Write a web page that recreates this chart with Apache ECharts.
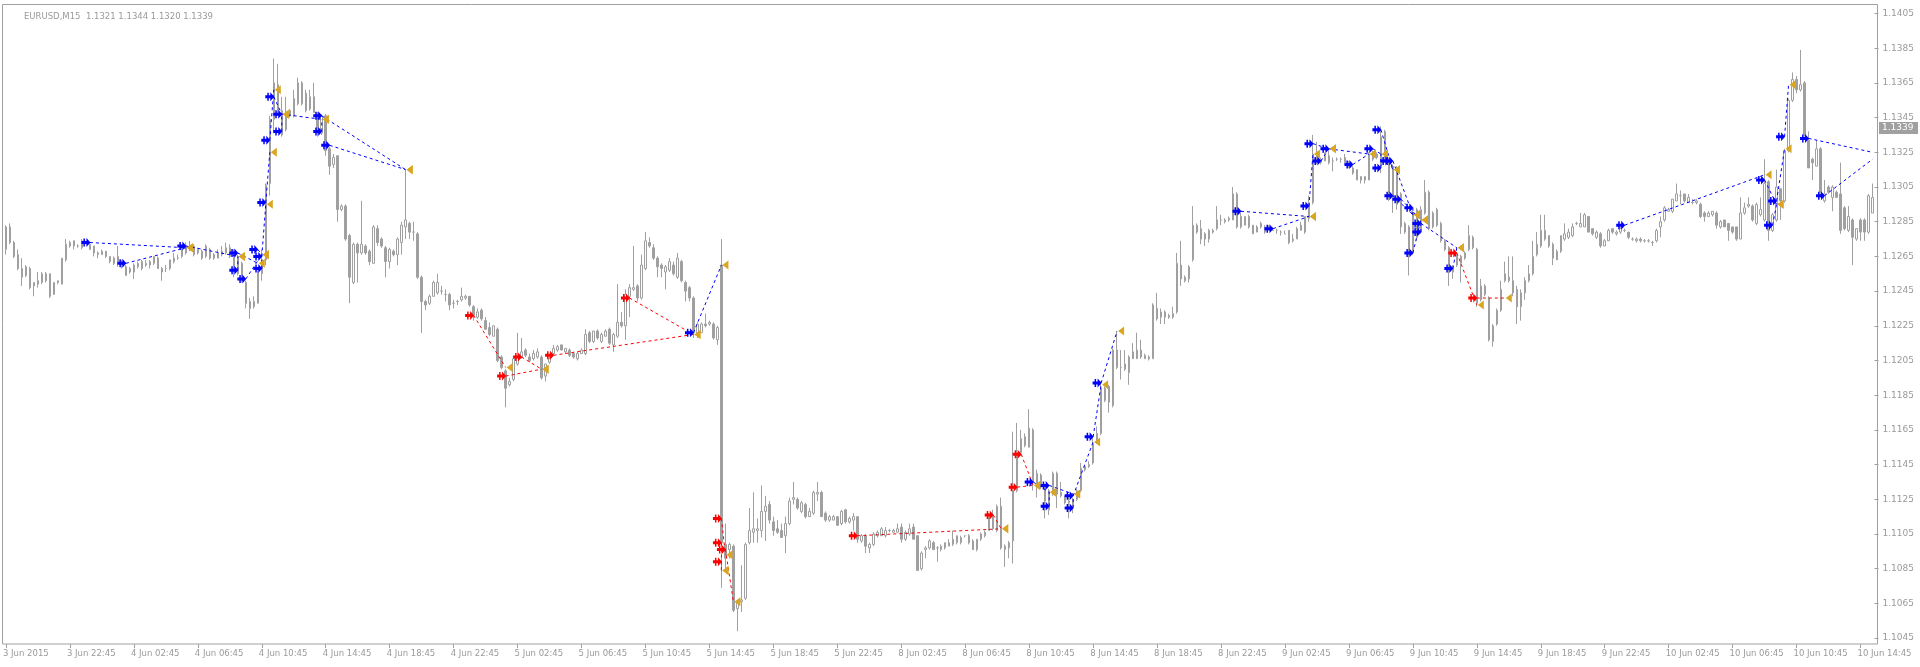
<!DOCTYPE html>
<html><head><meta charset="utf-8">
<script src="https://cdn.jsdelivr.net/npm/echarts@6/dist/echarts.min.js"></script>
<style>html,body{margin:0;padding:0;background:#fff}#c{width:1920px;height:667px}</style>
</head><body><div id="c"></div>
<script>
const symbolTitle = 'EURUSD,M15';
const lastBarOHLC = [1.1321, 1.1344, 1.1320, 1.1339];
const bidPrice = 1.1339;
const yMin = 1.1045, yMax = 1.1405, yStep = 0.002;
const firstBar = [2015, 5, 3, 18, 45]; // 3 Jun 2015 18:45, M15 bars
const labelEvery = 16;
// [open, close, low, high]
const candles = [
[1.1269,1.1282,1.1266,1.1283],[1.1282,1.1273,1.1272,1.1284],[1.1273,1.1265,1.1264,1.1274],[1.1266,1.1258,1.1257,1.1269],
[1.1258,1.1253,1.1248,1.1264],[1.1254,1.1259,1.1253,1.1260],[1.1258,1.1247,1.1246,1.1259],[1.1248,1.1250,1.1242,1.1250],
[1.1249,1.1251,1.1247,1.1256],[1.1250,1.1255,1.1249,1.1256],[1.1255,1.1251,1.1250,1.1256],[1.1255,1.1242,1.1241,1.1255],
[1.1243,1.1250,1.1243,1.1250],[1.1250,1.1251,1.1249,1.1251],[1.1249,1.1264,1.1249,1.1264],[1.1263,1.1272,1.1262,1.1275],
[1.1271,1.1273,1.1270,1.1274],[1.1274,1.1271,1.1269,1.1274],[1.1271,1.1271,1.1270,1.1272],[1.1270,1.1274,1.1269,1.1275],
[1.1273,1.1273,1.1272,1.1274],[1.1272,1.1269,1.1269,1.1273],[1.1271,1.1267,1.1265,1.1271],[1.1266,1.1267,1.1264,1.1268],
[1.1266,1.1268,1.1266,1.1269],[1.1268,1.1265,1.1264,1.1268],[1.1265,1.1262,1.1261,1.1265],[1.1264,1.1261,1.1260,1.1265],
[1.1262,1.1265,1.1259,1.1271],[1.1262,1.1259,1.1258,1.1263],[1.1259,1.1254,1.1254,1.1260],[1.1256,1.1258,1.1255,1.1259],
[1.1256,1.1260,1.1252,1.1261],[1.1259,1.1261,1.1258,1.1262],[1.1262,1.1258,1.1257,1.1263],[1.1260,1.1261,1.1259,1.1263],
[1.1260,1.1262,1.1258,1.1263],[1.1261,1.1265,1.1260,1.1265],[1.1264,1.1258,1.1258,1.1265],[1.1258,1.1256,1.1251,1.1259],
[1.1258,1.1258,1.1256,1.1260],[1.1258,1.1263,1.1257,1.1263],[1.1262,1.1264,1.1261,1.1267],[1.1264,1.1264,1.1263,1.1266],
[1.1265,1.1269,1.1264,1.1270],[1.1267,1.1271,1.1266,1.1273],[1.1269,1.1271,1.1268,1.1274],[1.1271,1.1266,1.1265,1.1272],
[1.1267,1.1269,1.1266,1.1270],[1.1268,1.1264,1.1263,1.1269],[1.1265,1.1271,1.1264,1.1272],[1.1269,1.1264,1.1263,1.1270],
[1.1266,1.1264,1.1263,1.1267],[1.1264,1.1267,1.1264,1.1269],[1.1266,1.1268,1.1265,1.1271],[1.1267,1.1270,1.1266,1.1273],
[1.1270,1.1265,1.1264,1.1272],[1.1268,1.1257,1.1253,1.1269],[1.1255,1.1265,1.1254,1.1266],[1.1261,1.1251,1.1250,1.1262],
[1.1250,1.1238,1.1235,1.1251],[1.1239,1.1235,1.1229,1.1241],[1.1236,1.1239,1.1235,1.1242],[1.1238,1.1256,1.1238,1.1257],
[1.1255,1.1263,1.1251,1.1269],[1.1263,1.1306,1.1260,1.1307],[1.1307,1.1344,1.1300,1.1346],[1.1344,1.1365,1.1336,1.1379],
[1.1364,1.1349,1.1346,1.1376],[1.1349,1.1335,1.1334,1.1357],[1.1338,1.1346,1.1337,1.1357],[1.1346,1.1349,1.1345,1.1350],
[1.1346,1.1356,1.1345,1.1361],[1.1353,1.1365,1.1352,1.1368],[1.1365,1.1353,1.1352,1.1366],[1.1359,1.1349,1.1348,1.1361],
[1.1350,1.1357,1.1349,1.1361],[1.1357,1.1348,1.1348,1.1365],[1.1348,1.1336,1.1334,1.1348],[1.1336,1.1346,1.1335,1.1347],
[1.1346,1.1326,1.1323,1.1347],[1.1327,1.1317,1.1312,1.1328],[1.1318,1.1322,1.1316,1.1324],[1.1323,1.1292,1.1285,1.1323],
[1.1292,1.1294,1.1291,1.1295],[1.1294,1.1275,1.1274,1.1295],[1.1277,1.1253,1.1238,1.1278],[1.1250,1.1272,1.1249,1.1273],
[1.1272,1.1267,1.1250,1.1273],[1.1267,1.1272,1.1266,1.1297],[1.1271,1.1267,1.1266,1.1272],[1.1268,1.1262,1.1260,1.1269],
[1.1261,1.1282,1.1261,1.1283],[1.1281,1.1273,1.1271,1.1283],[1.1275,1.1271,1.1270,1.1276],[1.1270,1.1262,1.1253,1.1271],
[1.1262,1.1269,1.1258,1.1270],[1.1268,1.1266,1.1265,1.1269],[1.1266,1.1275,1.1260,1.1276],[1.1273,1.1283,1.1266,1.1285],
[1.1282,1.1286,1.1275,1.1315],[1.1284,1.1279,1.1275,1.1285],[1.1279,1.1279,1.1274,1.1285],[1.1278,1.1253,1.1252,1.1279],
[1.1253,1.1239,1.1221,1.1254],[1.1239,1.1237,1.1234,1.1240],[1.1238,1.1242,1.1237,1.1243],[1.1242,1.1250,1.1242,1.1251],
[1.1244,1.1250,1.1243,1.1255],[1.1245,1.1245,1.1243,1.1248],[1.1243,1.1243,1.1239,1.1246],[1.1243,1.1237,1.1234,1.1244],
[1.1238,1.1238,1.1235,1.1240],[1.1239,1.1239,1.1237,1.1240],[1.1240,1.1242,1.1239,1.1247],[1.1241,1.1242,1.1240,1.1243],
[1.1242,1.1237,1.1236,1.1242],[1.1236,1.1231,1.1228,1.1237],[1.1230,1.1233,1.1229,1.1235],[1.1234,1.1229,1.1228,1.1235],
[1.1228,1.1223,1.1223,1.1230],[1.1224,1.1220,1.1219,1.1227],[1.1219,1.1225,1.1219,1.1225],[1.1223,1.1205,1.1204,1.1224],
[1.1207,1.1201,1.1200,1.1208],[1.1199,1.1189,1.1178,1.1200],[1.1191,1.1193,1.1190,1.1195],[1.1194,1.1206,1.1193,1.1207],
[1.1203,1.1207,1.1202,1.1221],[1.1207,1.1210,1.1206,1.1218],[1.1211,1.1208,1.1207,1.1212],[1.1207,1.1205,1.1204,1.1209],
[1.1206,1.1209,1.1205,1.1211],[1.1207,1.1210,1.1206,1.1212],[1.1207,1.1195,1.1194,1.1208],[1.1196,1.1203,1.1193,1.1203],
[1.1204,1.1206,1.1203,1.1207],[1.1209,1.1212,1.1208,1.1214],[1.1211,1.1213,1.1210,1.1214],[1.1214,1.1211,1.1211,1.1214],
[1.1210,1.1212,1.1209,1.1212],[1.1211,1.1208,1.1207,1.1212],[1.1209,1.1207,1.1206,1.1210],[1.1206,1.1209,1.1205,1.1210],
[1.1209,1.1211,1.1209,1.1212],[1.1209,1.1220,1.1208,1.1223],[1.1221,1.1216,1.1215,1.1222],[1.1216,1.1222,1.1215,1.1222],
[1.1222,1.1218,1.1217,1.1223],[1.1216,1.1220,1.1215,1.1221],[1.1219,1.1222,1.1219,1.1223],[1.1223,1.1215,1.1214,1.1224],
[1.1214,1.1220,1.1210,1.1221],[1.1219,1.1227,1.1218,1.1249],[1.1227,1.1225,1.1224,1.1233],[1.1225,1.1243,1.1217,1.1246],
[1.1242,1.1247,1.1230,1.1249],[1.1246,1.1247,1.1245,1.1271],[1.1248,1.1241,1.1239,1.1249],[1.1241,1.1260,1.1240,1.1266],
[1.1258,1.1274,1.1257,1.1279],[1.1273,1.1271,1.1270,1.1276],[1.1270,1.1264,1.1263,1.1272],[1.1264,1.1259,1.1253,1.1265],
[1.1260,1.1258,1.1253,1.1261],[1.1256,1.1259,1.1246,1.1260],[1.1257,1.1262,1.1256,1.1264],[1.1260,1.1255,1.1254,1.1262],
[1.1253,1.1264,1.1252,1.1267],[1.1262,1.1251,1.1250,1.1263],[1.1250,1.1245,1.1239,1.1251],[1.1247,1.1241,1.1239,1.1248],
[1.1241,1.1221,1.1218,1.1242],[1.1221,1.1226,1.1218,1.1227],[1.1221,1.1226,1.1221,1.1227],[1.1226,1.1225,1.1224,1.1232],
[1.1226,1.1227,1.1225,1.1228],[1.1226,1.1218,1.1217,1.1227],[1.1217,1.1224,1.1214,1.1225],[1.1260,1.1100,1.1074,1.1275],
[1.1099,1.1091,1.1083,1.1111],[1.1096,1.1099,1.1091,1.1100],[1.1098,1.1061,1.1060,1.1099],[1.1062,1.1065,1.1049,1.1066],
[1.1066,1.1067,1.1060,1.1087],[1.1068,1.1099,1.1067,1.1100],[1.1100,1.1107,1.1099,1.1120],[1.1106,1.1108,1.1100,1.1129],
[1.1107,1.1108,1.1100,1.1114],[1.1107,1.1118,1.1103,1.1133],[1.1118,1.1121,1.1101,1.1127],[1.1122,1.1113,1.1111,1.1124],
[1.1112,1.1107,1.1104,1.1115],[1.1108,1.1106,1.1105,1.1113],[1.1107,1.1103,1.1103,1.1111],[1.1104,1.1111,1.1094,1.1115],
[1.1111,1.1124,1.1110,1.1126],[1.1125,1.1126,1.1122,1.1135],[1.1125,1.1120,1.1119,1.1126],[1.1118,1.1123,1.1117,1.1124],
[1.1122,1.1115,1.1114,1.1123],[1.1115,1.1118,1.1115,1.1120],[1.1117,1.1129,1.1116,1.1130],[1.1128,1.1129,1.1124,1.1135],
[1.1129,1.1115,1.1115,1.1130],[1.1117,1.1113,1.1112,1.1118],[1.1113,1.1115,1.1112,1.1116],[1.1113,1.1115,1.1113,1.1116],
[1.1115,1.1110,1.1110,1.1115],[1.1111,1.1118,1.1110,1.1119],[1.1119,1.1112,1.1111,1.1119],[1.1112,1.1114,1.1111,1.1115],
[1.1113,1.1115,1.1107,1.1117],[1.1115,1.1102,1.1100,1.1115],[1.1101,1.1104,1.1100,1.1105],[1.1104,1.1098,1.1094,1.1105],
[1.1097,1.1099,1.1094,1.1100],[1.1099,1.1105,1.1098,1.1106],[1.1104,1.1106,1.1103,1.1107],[1.1104,1.1108,1.1104,1.1109],
[1.1104,1.1107,1.1103,1.1109],[1.1107,1.1107,1.1106,1.1108],[1.1106,1.1107,1.1106,1.1108],[1.1106,1.1108,1.1106,1.1111],
[1.1109,1.1102,1.1100,1.1111],[1.1102,1.1106,1.1101,1.1107],[1.1105,1.1108,1.1104,1.1111],[1.1109,1.1102,1.1102,1.1111],
[1.1104,1.1084,1.1084,1.1104],[1.1085,1.1094,1.1084,1.1095],[1.1096,1.1097,1.1091,1.1098],[1.1097,1.1101,1.1096,1.1102],
[1.1100,1.1096,1.1096,1.1101],[1.1097,1.1097,1.1089,1.1098],[1.1096,1.1098,1.1095,1.1099],[1.1097,1.1100,1.1096,1.1100],
[1.1098,1.1100,1.1098,1.1102],[1.1099,1.1102,1.1098,1.1107],[1.1100,1.1104,1.1099,1.1104],[1.1100,1.1103,1.1099,1.1104],
[1.1104,1.1104,1.1103,1.1104],[1.1104,1.1100,1.1099,1.1105],[1.1101,1.1096,1.1096,1.1102],[1.1096,1.1102,1.1095,1.1102],
[1.1102,1.1105,1.1101,1.1106],[1.1104,1.1106,1.1103,1.1107],[1.1107,1.1115,1.1107,1.1117],[1.1115,1.1108,1.1107,1.1119],
[1.1107,1.1121,1.1106,1.1122],[1.1121,1.1097,1.1096,1.1126],[1.1096,1.1098,1.1086,1.1099],[1.1097,1.1100,1.1091,1.1101],
[1.1101,1.1130,1.1088,1.1164],[1.1130,1.1152,1.1129,1.1169],[1.1152,1.1160,1.1150,1.1165],[1.1161,1.1156,1.1155,1.1163],
[1.1155,1.1166,1.1155,1.1177],[1.1165,1.1135,1.1130,1.1166],[1.1132,1.1140,1.1126,1.1142],[1.1139,1.1132,1.1131,1.1140],
[1.1133,1.1124,1.1114,1.1134],[1.1119,1.1130,1.1116,1.1131],[1.1128,1.1140,1.1127,1.1141],[1.1140,1.1128,1.1120,1.1141],
[1.1127,1.1129,1.1126,1.1135],[1.1126,1.1123,1.1122,1.1127],[1.1124,1.1123,1.1114,1.1127],[1.1121,1.1125,1.1117,1.1126],
[1.1125,1.1130,1.1124,1.1131],[1.1130,1.1143,1.1129,1.1146],[1.1142,1.1144,1.1141,1.1145],[1.1144,1.1145,1.1143,1.1147],
[1.1146,1.1157,1.1145,1.1162],[1.1158,1.1163,1.1157,1.1167],[1.1163,1.1189,1.1162,1.1193],[1.1189,1.1182,1.1181,1.1190],
[1.1190,1.1181,1.1175,1.1191],[1.1179,1.1211,1.1178,1.1212],[1.1211,1.1201,1.1200,1.1222],[1.1201,1.1201,1.1194,1.1211],
[1.1200,1.1203,1.1199,1.1211],[1.1198,1.1207,1.1191,1.1208],[1.1210,1.1206,1.1206,1.1215],[1.1206,1.1211,1.1206,1.1221],
[1.1211,1.1207,1.1206,1.1217],[1.1206,1.1208,1.1206,1.1209],[1.1207,1.1206,1.1205,1.1208],[1.1206,1.1237,1.1206,1.1238],
[1.1235,1.1229,1.1228,1.1244],[1.1233,1.1230,1.1226,1.1235],[1.1230,1.1233,1.1226,1.1234],[1.1231,1.1230,1.1229,1.1232],
[1.1230,1.1232,1.1229,1.1236],[1.1233,1.1261,1.1232,1.1267],[1.1260,1.1252,1.1248,1.1274],[1.1253,1.1251,1.1250,1.1254],
[1.1252,1.1259,1.1250,1.1260],[1.1263,1.1283,1.1262,1.1294],[1.1279,1.1283,1.1278,1.1284],[1.1281,1.1275,1.1272,1.1286],
[1.1278,1.1275,1.1271,1.1279],[1.1275,1.1280,1.1273,1.1281],[1.1279,1.1280,1.1278,1.1281],[1.1281,1.1286,1.1280,1.1294],
[1.1286,1.1286,1.1283,1.1289],[1.1285,1.1286,1.1284,1.1287],[1.1286,1.1287,1.1285,1.1288],[1.1286,1.1301,1.1286,1.1305],
[1.1301,1.1282,1.1281,1.1302],[1.1288,1.1282,1.1281,1.1290],[1.1283,1.1288,1.1283,1.1288],[1.1288,1.1282,1.1281,1.1289],
[1.1283,1.1278,1.1278,1.1283],[1.1279,1.1282,1.1279,1.1283],[1.1284,1.1282,1.1281,1.1285],[1.1282,1.1279,1.1278,1.1283],
[1.1280,1.1282,1.1280,1.1283],[1.1280,1.1280,1.1280,1.1282],[1.1280,1.1280,1.1278,1.1281],[1.1279,1.1279,1.1277,1.1280],
[1.1278,1.1278,1.1278,1.1280],[1.1280,1.1273,1.1272,1.1280],[1.1274,1.1275,1.1273,1.1278],[1.1275,1.1281,1.1275,1.1282],
[1.1280,1.1283,1.1280,1.1285],[1.1279,1.1288,1.1278,1.1288],[1.1287,1.1296,1.1285,1.1300],[1.1296,1.1324,1.1295,1.1335],
[1.1324,1.1319,1.1318,1.1331],[1.1319,1.1321,1.1318,1.1322],[1.1320,1.1323,1.1320,1.1325],[1.1323,1.1319,1.1318,1.1326],
[1.1320,1.1320,1.1314,1.1322],[1.1321,1.1321,1.1320,1.1322],[1.1321,1.1321,1.1319,1.1322],[1.1322,1.1319,1.1319,1.1324],
[1.1316,1.1319,1.1316,1.1320],[1.1316,1.1313,1.1312,1.1317],[1.1315,1.1309,1.1309,1.1315],[1.1311,1.1309,1.1307,1.1311],
[1.1309,1.1311,1.1307,1.1311],[1.1309,1.1324,1.1309,1.1325],[1.1323,1.1321,1.1320,1.1326],[1.1322,1.1324,1.1321,1.1325],
[1.1317,1.1334,1.1313,1.1340],[1.1337,1.1321,1.1320,1.1338],[1.1321,1.1302,1.1297,1.1322],[1.1299,1.1317,1.1290,1.1318],
[1.1316,1.1295,1.1292,1.1317],[1.1301,1.1282,1.1278,1.1302],[1.1284,1.1279,1.1278,1.1285],[1.1282,1.1267,1.1254,1.1283],
[1.1267,1.1290,1.1266,1.1291],[1.1276,1.1292,1.1274,1.1293],[1.1279,1.1292,1.1278,1.1294],[1.1290,1.1302,1.1289,1.1309],
[1.1302,1.1281,1.1280,1.1303],[1.1282,1.1290,1.1281,1.1291],[1.1292,1.1283,1.1282,1.1293],[1.1284,1.1274,1.1273,1.1285],
[1.1274,1.1269,1.1268,1.1275],[1.1270,1.1260,1.1248,1.1271],[1.1256,1.1259,1.1252,1.1260],[1.1260,1.1266,1.1259,1.1267],
[1.1265,1.1261,1.1250,1.1266],[1.1264,1.1267,1.1263,1.1268],[1.1269,1.1277,1.1268,1.1283],[1.1276,1.1270,1.1269,1.1277],
[1.1269,1.1238,1.1236,1.1270],[1.1240,1.1248,1.1239,1.1252],[1.1243,1.1248,1.1242,1.1249],[1.1241,1.1217,1.1216,1.1242],
[1.1216,1.1225,1.1213,1.1226],[1.1226,1.1234,1.1225,1.1235],[1.1234,1.1246,1.1233,1.1251],[1.1251,1.1255,1.1250,1.1262],
[1.1253,1.1251,1.1250,1.1265],[1.1251,1.1244,1.1242,1.1265],[1.1246,1.1236,1.1226,1.1248],[1.1236,1.1244,1.1228,1.1246],
[1.1244,1.1251,1.1240,1.1253],[1.1251,1.1255,1.1250,1.1260],[1.1255,1.1265,1.1254,1.1274],[1.1266,1.1272,1.1265,1.1279],
[1.1271,1.1280,1.1270,1.1289],[1.1280,1.1275,1.1274,1.1289],[1.1277,1.1271,1.1270,1.1277],[1.1272,1.1264,1.1260,1.1273],
[1.1263,1.1268,1.1263,1.1269],[1.1268,1.1277,1.1267,1.1277],[1.1275,1.1278,1.1274,1.1284],[1.1276,1.1279,1.1275,1.1281],
[1.1277,1.1282,1.1276,1.1284],[1.1284,1.1284,1.1283,1.1285],[1.1282,1.1284,1.1282,1.1290],[1.1282,1.1289,1.1282,1.1290],
[1.1288,1.1279,1.1279,1.1288],[1.1281,1.1278,1.1277,1.1281],[1.1276,1.1279,1.1275,1.1280],[1.1278,1.1271,1.1270,1.1279],
[1.1271,1.1274,1.1271,1.1275],[1.1274,1.1280,1.1274,1.1281],[1.1281,1.1279,1.1278,1.1281],[1.1278,1.1279,1.1277,1.1280],
[1.1279,1.1281,1.1278,1.1282],[1.1280,1.1280,1.1279,1.1281],[1.1279,1.1276,1.1275,1.1279],[1.1275,1.1275,1.1274,1.1276],
[1.1274,1.1275,1.1273,1.1276],[1.1275,1.1274,1.1273,1.1276],[1.1274,1.1274,1.1273,1.1275],[1.1274,1.1274,1.1273,1.1275],
[1.1273,1.1273,1.1271,1.1274],[1.1274,1.1280,1.1273,1.1281],[1.1282,1.1285,1.1276,1.1288],[1.1286,1.1293,1.1285,1.1294],
[1.1291,1.1292,1.1291,1.1293],[1.1291,1.1298,1.1290,1.1298],[1.1297,1.1301,1.1297,1.1307],[1.1300,1.1300,1.1295,1.1303],
[1.1301,1.1297,1.1296,1.1301],[1.1296,1.1299,1.1296,1.1301],[1.1296,1.1296,1.1295,1.1298],[1.1296,1.1297,1.1295,1.1298],
[1.1295,1.1288,1.1287,1.1296],[1.1290,1.1288,1.1285,1.1291],[1.1288,1.1290,1.1288,1.1291],[1.1289,1.1291,1.1288,1.1291],
[1.1290,1.1283,1.1281,1.1291],[1.1282,1.1285,1.1281,1.1286],[1.1286,1.1282,1.1282,1.1286],[1.1284,1.1280,1.1274,1.1284],
[1.1282,1.1279,1.1278,1.1282],[1.1282,1.1275,1.1274,1.1282],[1.1275,1.1290,1.1275,1.1299],[1.1290,1.1293,1.1289,1.1296],
[1.1294,1.1295,1.1293,1.1299],[1.1294,1.1286,1.1285,1.1295],[1.1284,1.1295,1.1283,1.1296],[1.1289,1.1292,1.1288,1.1299],
[1.1286,1.1307,1.1285,1.1321],[1.1308,1.1280,1.1274,1.1309],[1.1280,1.1289,1.1279,1.1290],[1.1286,1.1305,1.1285,1.1315],
[1.1304,1.1297,1.1286,1.1304],[1.1297,1.1326,1.1296,1.1327],[1.1326,1.1355,1.1325,1.1356],[1.1355,1.1367,1.1354,1.1371],
[1.1367,1.1361,1.1359,1.1369],[1.1361,1.1364,1.1360,1.1384],[1.1365,1.1335,1.1334,1.1366],[1.1332,1.1316,1.1316,1.1337],
[1.1321,1.1319,1.1309,1.1322],[1.1317,1.1327,1.1317,1.1332],[1.1327,1.1302,1.1299,1.1328],[1.1297,1.1301,1.1296,1.1309],
[1.1305,1.1302,1.1301,1.1306],[1.1299,1.1305,1.1291,1.1306],[1.1302,1.1299,1.1299,1.1303],[1.1301,1.1280,1.1278,1.1319],
[1.1293,1.1281,1.1280,1.1294],[1.1280,1.1288,1.1279,1.1294],[1.1286,1.1276,1.1260,1.1287],[1.1275,1.1281,1.1274,1.1281],
[1.1286,1.1279,1.1274,1.1287],[1.1286,1.1279,1.1274,1.1287],[1.1279,1.1300,1.1278,1.1301],[1.1290,1.1299,1.1290,1.1307]
];
// [entryBar, entryPrice, exitBar, exitPrice, exitMarkerShown]
const buyTrades = [
[21,1.1273,45,1.1270,1],[30,1.1261,45,1.1270,1],[45,1.1271,58,1.1265,1],[58,1.1267,63,1.1261,1],
[58,1.1257,58,1.1265,1],[60,1.1252,64,1.1266,1],[63,1.1269,64,1.1266,1],[64,1.1265,65,1.1295,1],
[64,1.1258,64,1.1266,1],[65,1.1296,66,1.1325,1],[66,1.1332,67,1.1361,1],[67,1.1357,69,1.1347,1],
[69,1.1347,79,1.1344,1],[69,1.1337,69,1.1347,1],[79,1.1346,100,1.1315,1],[79,1.1337,79,1.1344,1],
[81,1.1329,100,1.1315,1],[172,1.1221,179,1.1260,1],
[257,1.1135,261,1.1129,1],[261,1.1133,267,1.1128,1],[261,1.1121,261,1.1129,1],[267,1.1120,267,1.1128,1],
[267,1.1127,272,1.1158,1],[272,1.1161,274,1.1191,1],[274,1.1192,278,1.1222,1],
[309,1.1291,326,1.1288,1],[317,1.1281,326,1.1288,1],[326,1.1294,327,1.1324,1],[327,1.1330,331,1.1327,1],
[329,1.1320,331,1.1327,1],[331,1.1327,341,1.1324,1],[337,1.1318,341,1.1324,1],[342,1.1327,344,1.1324,1],
[344,1.1338,347,1.1315,1],[344,1.1316,344,1.1324,1],[346,1.1320,347,1.1315,1],[347,1.1320,352,1.1289,1],
[347,1.1300,352,1.1289,1],[349,1.1298,354,1.1286,1],[352,1.1293,352,1.1289,1],[352,1.1267,354,1.1286,1],
[354,1.1284,363,1.1270,1],[354,1.1279,354,1.1286,1],[362,1.1258,363,1.1270,1],
[405,1.1283,440,1.1312,1],[440,1.1309,443,1.1295,1],[442,1.1283,443,1.1295,1],[443,1.1297,445,1.1327,1],
[445,1.1334,446,1.1364,1],[451,1.1333,467,1.1325,0],[455,1.1300,467,1.1321,0]
];
const sellTrades = [
[117,1.1231,125,1.1201,1],[125,1.1196,134,1.1200,1],[129,1.1207,134,1.1200,1],[137,1.1208,172,1.1220,1],
[156,1.1241,172,1.1220,1],[179,1.1114,180,1.1093,1],[179,1.1100,179,1.1084,1],[180,1.1096,182,1.1066,1],
[179,1.1089,179,1.1084,1],
[213,1.1104,249,1.1108,1],[247,1.1116,249,1.1108,1],[253,1.1132,257,1.1133,1],[254,1.1151,257,1.1133,1],
[363,1.1267,368,1.1237,1],[368,1.1241,375,1.1241,1]
];

const months = ['Jan','Feb','Mar','Apr','May','Jun','Jul','Aug','Sep','Oct','Nov','Dec'];
const pad = n => (n < 10 ? '0' : '') + n;
const categories = [];
let t = Date.UTC(firstBar[0], firstBar[1], firstBar[2], firstBar[3], firstBar[4]);
while (categories.length < candles.length) {
  const d = new Date(t), wd = d.getUTCDay();
  if (wd !== 0 && wd !== 6) {
    categories.push(categories.length === 0
      ? d.getUTCDate() + ' ' + months[d.getUTCMonth()] + ' ' + d.getUTCFullYear()
      : d.getUTCDate() + ' ' + months[d.getUTCMonth()] + ' ' + pad(d.getUTCHours()) + ':' + pad(d.getUTCMinutes()));
  }
  t += 15 * 60000;
}

const BAR = 4;
const gridLeft = 2.5, gridRight = 1920 - (gridLeft + BAR * candles.length);
const BLUE = '#0000ff', RED = '#ff0000', GOLD = '#daa520', GRAY = '#a0a0a0', TXT = '#9a9a9a';
const arrowPath = 'path://M0,3.5L2,3.5L2,1L3.5,1L3.5,3.5L5,3.5L5,0.5L9,5L5,9.5L5,6.5L3.5,6.5L3.5,9L2,9L2,6.5L0,6.5Z';
const triPath = 'path://M0,5L7,0L7,10Z';

const series = [{
  type: 'candlestick',
  data: candles,
  barWidth: 2,
  clip: false,
  z: 2,
  itemStyle: { color: '#ffffff', color0: '#a0a0a0', borderColor: '#a0a0a0', borderColor0: '#a0a0a0', borderWidth: 1 }
}];
function addTrades(list, color) {
  list.forEach(tr => {
    series.push({ type: 'line', data: [[tr[0], tr[1]], [tr[2], tr[3]]], symbol: 'none', silent: true, z: 3,
      lineStyle: { color: color, width: 1, type: [3, 3] } });
  });
  series.push({ type: 'scatter', z: 5, silent: true, data: list.map(tr => [tr[0], tr[1]]),
    symbol: arrowPath, symbolSize: [9, 9], symbolOffset: [-4, 0], itemStyle: { color: color, opacity: 1 } });
  series.push({ type: 'scatter', z: 4, silent: true, data: list.filter(tr => tr[4]).map(tr => [tr[2], tr[3]]),
    symbol: triPath, symbolSize: [6, 9], symbolOffset: [4, 0], itemStyle: { color: GOLD, opacity: 1 } });
}
addTrades(buyTrades, BLUE);
addTrades(sellTrades, RED);

const chart = echarts.init(document.getElementById('c'), null, { renderer: 'canvas' });
chart.setOption({
  animation: false,
  backgroundColor: '#ffffff',
  textStyle: { fontFamily: 'DejaVu Sans' },
  title: { text: symbolTitle + '  ' + lastBarOHLC.map(v => v.toFixed(4)).join(' '), left: 19, top: 7,
    textStyle: { fontFamily: 'DejaVu Sans', fontSize: 8.5, fontWeight: 'normal', color: TXT } },
  grid: { left: gridLeft, right: gridRight, top: 13.5, bottom: 28.9, containLabel: false },
  xAxis: {
    type: 'category', data: categories, boundaryGap: true, offset: 6,
    axisLine: { show: false },
    axisTick: { show: true, alignWithLabel: true, length: 4, interval: i => i % labelEvery === 0, lineStyle: { color: GRAY } },
    axisLabel: { interval: i => i % labelEvery === 0, align: 'left', margin: 5, padding: [0, 0, 0, -3],
      fontFamily: 'DejaVu Sans', fontSize: 8.5, color: TXT },
    splitLine: { show: false }
  },
  yAxis: {
    type: 'value', position: 'right', min: yMin, max: yMax, interval: yStep, scale: true,
    axisLine: { show: false },
    axisTick: { show: true, length: 4, lineStyle: { color: GRAY } },
    axisLabel: { margin: 8, fontFamily: 'DejaVu Sans', fontSize: 9, color: TXT, formatter: v => v.toFixed(4) },
    splitLine: { show: false }
  },
  series: series
});
// bid price label on the price scale, positioned through the axis scale
const bidY = chart.convertToPixel({ yAxisIndex: 0 }, bidPrice);
chart.setOption({
  graphic: [
    { type: 'rect', silent: true, z: -10, shape: { x: 2.5, y: 4.5, width: 1875, height: 639.5 },
      style: { fill: 'rgba(0,0,0,0)', stroke: GRAY, lineWidth: 1 } },
    { type: 'rect', silent: true, z: 20, shape: { x: 1879, y: Math.round(bidY) - 6, width: 39, height: 12 },
      style: { fill: '#a0a0a0' } },
    { type: 'text', silent: true, z: 21, x: 1882, y: Math.round(bidY) - 5,
      style: { text: bidPrice.toFixed(4), fill: '#ffffff', font: '9px "DejaVu Sans"' } }
  ]
});
</script>
</body></html>
